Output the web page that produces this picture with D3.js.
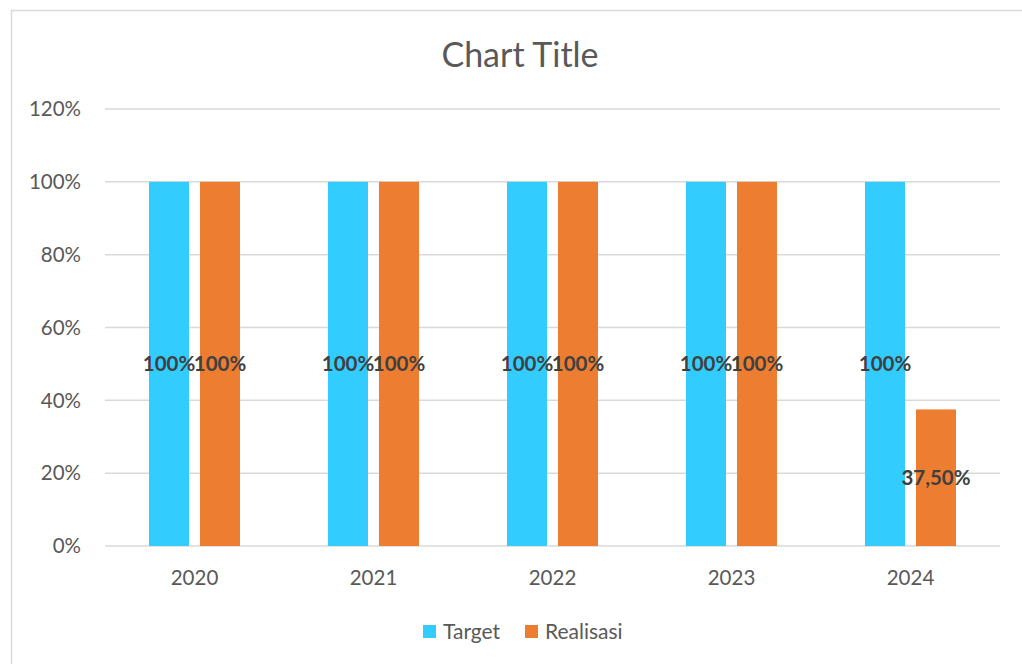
<!DOCTYPE html>
<html>
<head>
<meta charset="utf-8">
<script src="https://cdnjs.cloudflare.com/ajax/libs/d3/7.8.5/d3.min.js"></script>
<style>
  body { margin: 0; background: #fff; }
  text { font-family: Lato, "Open Sans", sans-serif; }
</style>
</head>
<body>
<script>
// chart data
var years = ["2020", "2021", "2022", "2023", "2024"];
var target = [1, 1, 1, 1, 1];
var realisasi = [1, 1, 1, 1, 0.375];
var seriesNames = ["Target", "Realisasi"];
var seriesColors = ["#33ccff", "#ed7d31"];
var yTicks = [0, 0.2, 0.4, 0.6, 0.8, 1.0, 1.2];

window.onload = function(){
  var w = 1022, h = 664;
  var margin = {top: 109, right: 22, bottom: 118, left: 105};

  var svg = d3.select("body").append("svg")
    .attr("width", w)
    .attr("height", h);

  // chart area border (right and bottom edges fall outside the picture)
  svg.append("rect")
    .attr("x", 11.5).attr("y", 10.5)
    .attr("width", w + 20).attr("height", h + 20)
    .attr("fill", "#fff")
    .attr("stroke", "#d9d9d9")
    .attr("stroke-width", 1.5);

  var x = d3.scaleBand()
    .domain(years)
    .range([margin.left, w - margin.right]);

  var y = d3.scaleLinear()
    .domain([0, 1.2])
    .range([h - margin.bottom, margin.top]);

  // gridlines
  svg.append("g").selectAll("line")
    .data(yTicks)
    .enter().append("line")
    .attr("x1", margin.left).attr("x2", w - margin.right)
    .attr("y1", function(d){ return y(d); })
    .attr("y2", function(d){ return y(d); })
    .attr("stroke", "#d9d9d9")
    .attr("stroke-width", 1.5);

  // y axis labels
  svg.append("g").selectAll("text")
    .data(yTicks)
    .enter().append("text")
    .attr("x", 81)
    .attr("y", function(d){ return y(d); })
    .attr("dy", "0.35em")
    .attr("text-anchor", "end")
    .attr("font-size", 20.5)
    .attr("fill", "#595959")
    .text(function(d){ return Math.round(d * 100) + "%"; });

  // x axis labels
  svg.append("g").selectAll("text")
    .data(years)
    .enter().append("text")
    .attr("x", function(d){ return x(d) + x.bandwidth() / 2; })
    .attr("y", 585)
    .attr("text-anchor", "middle")
    .attr("font-size", 20.5)
    .attr("fill", "#595959")
    .text(function(d){ return d; });

  // bars, grouped per year
  var barW = 40, innerGap = 11;
  var rows = years.map(function(yr, i){
    return {year: yr, values: [target[i], realisasi[i]]};
  });

  var groups = svg.append("g").selectAll("g")
    .data(rows)
    .enter().append("g")
    .attr("transform", function(d){
      var cx = x(d.year) + x.bandwidth() / 2;
      return "translate(" + (cx - barW - innerGap / 2) + ",0)";
    });

  groups.selectAll("rect")
    .data(function(d){ return d.values; })
    .enter().append("rect")
    .attr("x", function(d, i){ return i * (barW + innerGap); })
    .attr("y", function(d){ return y(d); })
    .attr("width", barW)
    .attr("height", function(d){ return y(0) - y(d); })
    .attr("fill", function(d, i){ return seriesColors[i]; });

  // data labels in the middle of each bar
  groups.selectAll("text")
    .data(function(d){ return d.values; })
    .enter().append("text")
    .attr("x", function(d, i){ return i * (barW + innerGap) + barW / 2; })
    .attr("y", function(d){ return (y(d) + y(0)) / 2; })
    .attr("dy", "0.35em")
    .attr("text-anchor", "middle")
    .attr("font-size", 20.5)
    .attr("font-weight", "bold")
    .attr("fill", "#404040")
    .text(function(d){
      var p = d * 100;
      return (p % 1 === 0 ? p.toFixed(0) : p.toFixed(2).replace(".", ",")) + "%";
    });

  // title
  svg.append("text")
    .attr("x", 520).attr("y", 55)
    .attr("dy", "0.35em")
    .attr("text-anchor", "middle")
    .attr("font-size", 34)
    .attr("fill", "#595959")
    .text("Chart Title");

  // legend
  var legendX = [423, 525];
  var legend = svg.append("g").selectAll("g")
    .data(seriesNames)
    .enter().append("g")
    .attr("transform", function(d, i){ return "translate(" + legendX[i] + ",625)"; });

  legend.append("rect")
    .attr("width", 13).attr("height", 13)
    .attr("fill", function(d, i){ return seriesColors[i]; });

  legend.append("text")
    .attr("x", 20).attr("y", 7)
    .attr("dy", "0.35em")
    .attr("font-size", 21)
    .attr("fill", "#595959")
    .text(function(d){ return d; });
};
</script>
</body>
</html>
